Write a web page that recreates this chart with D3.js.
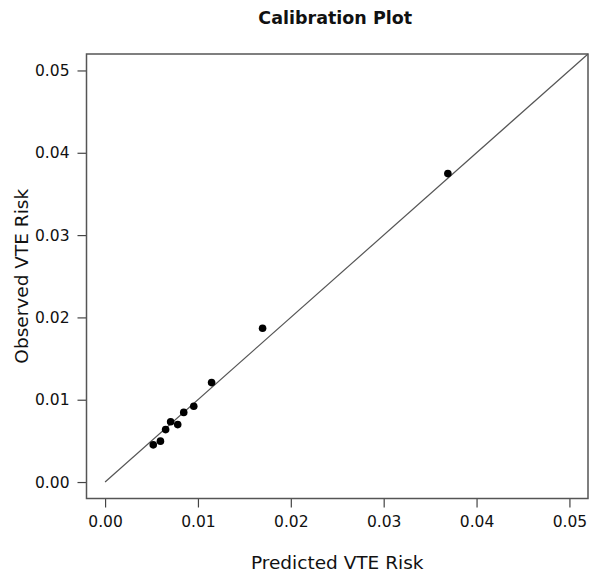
<!DOCTYPE html>
<html>
<head>
<meta charset="utf-8">
<script src="https://cdn.jsdelivr.net/npm/d3@7.9.0/dist/d3.min.js"></script>
<style>
  body { margin: 0; background: #fff; }
  text { font-family: "DejaVu Sans", sans-serif; fill: #111; }
</style>
</head>
<body>
<svg id="chart" width="592" height="573"></svg>
<script>
// predicted vs observed risk per group
const predicted = [0.00519, 0.00596, 0.00652, 0.00706, 0.00782, 0.00847, 0.00955, 0.01147, 0.01696, 0.03691];
const observed  = [0.00452, 0.00497, 0.00637, 0.00732, 0.00698, 0.00846, 0.00921, 0.01208, 0.01868, 0.03747];
const ticks = [0, 0.01, 0.02, 0.03, 0.04, 0.05];
const domain = [-0.002, 0.052];

const svg = d3.select('#chart');
const box = { left: 86.5, right: 588, top: 54, bottom: 498.5 };

const x = d3.scaleLinear().domain(domain).range([box.left, box.right]);
const y = d3.scaleLinear().domain(domain).range([box.bottom, box.top]);

// axes (R style, ticks outside the box)
const xAxis = svg.append('g')
  .attr('transform', `translate(0,${box.bottom})`)
  .call(d3.axisBottom(x).tickValues(ticks).tickFormat(d3.format('.2f')).tickSize(9).tickPadding(8));
const yAxis = svg.append('g')
  .attr('transform', `translate(${box.left},0)`)
  .call(d3.axisLeft(y).tickValues(ticks).tickFormat(d3.format('.2f')).tickSize(9).tickPadding(8));

[xAxis, yAxis].forEach(g => {
  g.select('.domain').remove();
  g.selectAll('line').attr('stroke', '#444').attr('stroke-width', 1.2);
  g.selectAll('text').style('font-size', '15.5px').attr('fill', '#111');
});

// diagonal reference line
svg.append('line')
  .attr('x1', x(0)).attr('y1', y(0))
  .attr('x2', x(0.052)).attr('y2', y(0.052))
  .attr('stroke', '#555').attr('stroke-width', 1.2);

// plot frame
svg.append('rect')
  .attr('x', box.left).attr('y', box.top)
  .attr('width', box.right - box.left).attr('height', box.bottom - box.top)
  .attr('fill', 'none').attr('stroke', '#555').attr('stroke-width', 1.5);

// points
svg.selectAll('circle.pt')
  .data(predicted)
  .join('circle')
  .attr('class', 'pt')
  .attr('cx', d => x(d))
  .attr('cy', (d, i) => y(observed[i]))
  .attr('r', 3.8)
  .attr('fill', '#000');

// labels
svg.append('text')
  .attr('x', (box.left + box.right) / 2 - 2).attr('y', 24)
  .attr('text-anchor', 'middle')
  .style('font-size', '17.5px').style('font-weight', 'bold')
  .text('Calibration Plot');

svg.append('text')
  .attr('x', (box.left + box.right) / 2).attr('y', 569)
  .attr('text-anchor', 'middle')
  .style('font-size', '18.5px')
  .text('Predicted VTE Risk');

svg.append('text')
  .attr('transform', `translate(28,${(box.top + box.bottom) / 2}) rotate(-90)`)
  .attr('text-anchor', 'middle')
  .style('font-size', '18.5px')
  .text('Observed VTE Risk');
</script>
</body>
</html>
